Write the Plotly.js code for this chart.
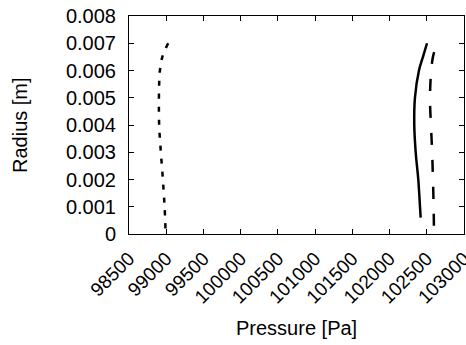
<!DOCTYPE html>
<html><head><meta charset="utf-8">
<script src="https://cdn.plot.ly/plotly-3.0.1.min.js"></script>
<style>html,body{margin:0;padding:0;background:#fff}</style>
</head><body><div id="chart" style="width:466px;height:345px"></div>
<script>
// Dotted series
const radiusDotted = [0.0002, 0.001, 0.002, 0.003, 0.004, 0.005, 0.0055, 0.006, 0.0065, 0.007];
const pressureDotted = [98990, 98978, 98955, 98928, 98905, 98902, 98905, 98915, 98948, 99026];
// Solid series
const radiusSolid = [0.0006, 0.001, 0.002, 0.003, 0.004, 0.005, 0.006, 0.0065, 0.007];
const pressureSolid = [102418, 102409, 102386, 102351, 102332, 102341, 102395, 102449, 102503];
// Dashed series
const radiusDashed = [0.0003, 0.001, 0.002, 0.003, 0.004, 0.005, 0.006, 0.0065, 0.0069];
const pressureDashed = [102596, 102592, 102583, 102572, 102556, 102543, 102560, 102583, 102627];
// Ticks
const xTicks = [98500, 99000, 99500, 100000, 100500, 101000, 101500, 102000, 102500, 103000];
const yTicks = [0, 0.001, 0.002, 0.003, 0.004, 0.005, 0.006, 0.007, 0.008];
const yTickText = ["0", "0.001", "0.002", "0.003", "0.004", "0.005", "0.006", "0.007", "0.008"];
const xTitle = "Pressure [Pa]";
const yTitle = "Radius [m]";

const W = 466, H = 345, M = {l: 129, r: 2, t: 16, b: 111};
const pw = W - M.l - M.r, ph = H - M.t - M.b;
const font = {family: "Liberation Sans, Arial, sans-serif", size: 20, color: "#000"};
const traces = [
  {x: pressureDotted, y: radiusDotted, mode: "lines", line: {color: "#000", width: 2.5, dash: "5px,8px", shape: "spline"}},
  {x: pressureSolid, y: radiusSolid, mode: "lines", line: {color: "#000", width: 2.5, shape: "spline"}},
  {x: pressureDashed, y: radiusDashed, mode: "lines", line: {color: "#000", width: 2.5, dash: "12px,15px", shape: "spline"}}
];
const layout = {
  width: W, height: H,
  margin: M,
  showlegend: false,
  paper_bgcolor: "#fff", plot_bgcolor: "#fff",
  font: font,
  xaxis: {
    range: [98500, 103000], tickvals: xTicks, ticktext: xTicks.map(String),
    tickangle: -45, ticks: "inside", ticklen: 5, tickcolor: "#000",
    showline: true, linecolor: "#000", linewidth: 1, mirror: "ticks",
    showgrid: false, zeroline: false, automargin: false,
    ticklabeloverflow: "allow",
    tickfont: {size: 19}, ticklabelstandoff: 5
  },
  yaxis: {
    range: [0, 0.008], tickvals: yTicks, ticktext: yTickText,
    ticks: "inside", ticklen: 5, tickcolor: "#000",
    showline: true, linecolor: "#000", linewidth: 1, mirror: "ticks",
    showgrid: false, zeroline: false, automargin: false,
    ticklabelstandoff: 8
  },
  annotations: [
    {text: xTitle, xref: "paper", yref: "paper", x: 0.5, y: (0 - (328 - (M.t + ph))) / ph,
     xanchor: "center", yanchor: "middle", showarrow: false, font: {size: 20}},
    {text: yTitle, xref: "paper", yref: "paper", x: (20 - M.l) / pw, y: 0.5, textangle: -90,
     xanchor: "center", yanchor: "middle", showarrow: false, font: {size: 20}}
  ]
};
Plotly.newPlot("chart", traces, layout, {staticPlot: true, displayModeBar: false});
</script></body></html>
